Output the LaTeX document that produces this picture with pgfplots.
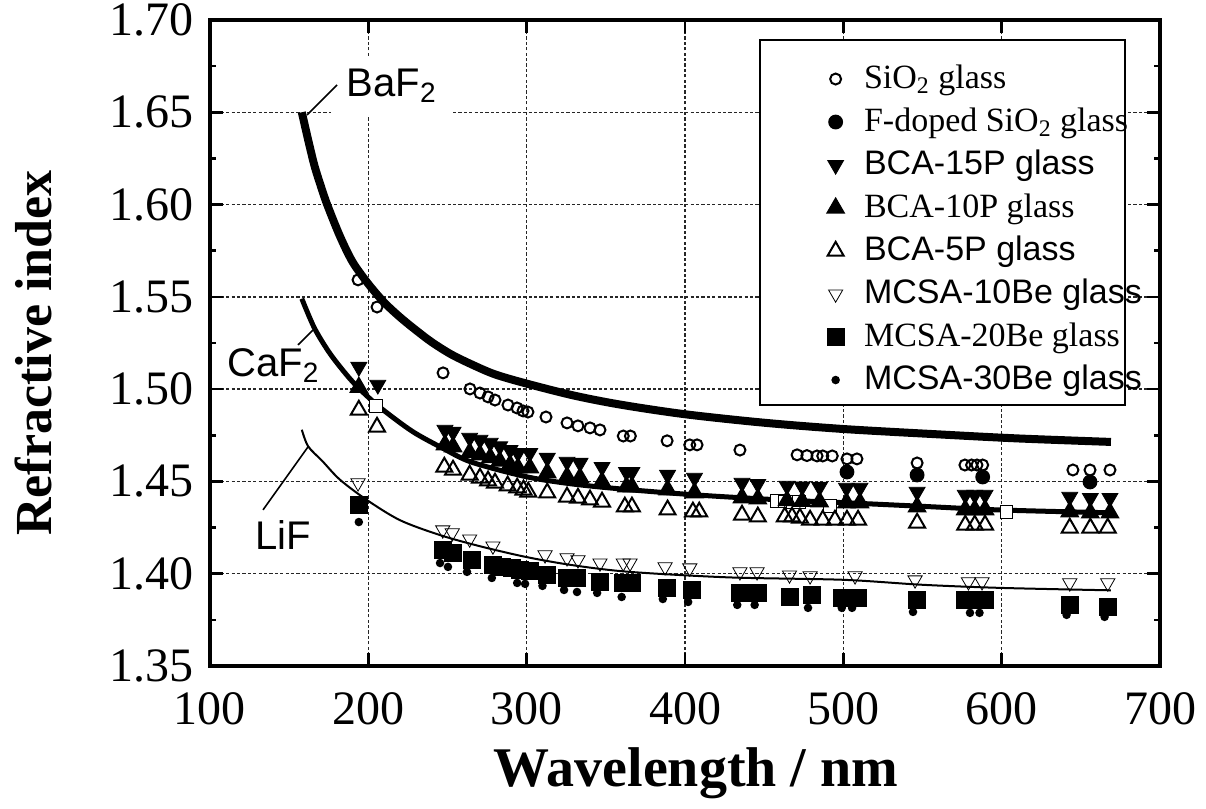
\documentclass[border=0pt]{standalone}
\usepackage{fontspec}
\setmainfont{Liberation Serif}
\newfontfamily\arial{Liberation Sans}
\usepackage{pgfplots}
\pgfplotsset{compat=1.18}
\pgfplotsset{mk/.style={only marks, black, mark options={line width=1bp}}}
\begin{document}
\begin{tikzpicture}
\useasboundingbox (-105bp,-71.5bp) rectangle (498bp,333bp);
\begin{axis}[
  name=ax, at={(0,0)}, anchor=south west,
  scale only axis, width=475bp, height=323bp,
  xmin=100, xmax=700, ymin=1.35, ymax=1.70,
  xtick={100,200,300,400,500,600,700},
  ytick={1.35,1.40,1.45,1.50,1.55,1.60,1.65,1.70},
  minor y tick num=1,
  tick align=inside, major tick length=6.5bp, minor tick length=3bp,
  tick style={black, line width=1.3bp},
  axis line style={line width=1.6bp},
  grid=major,
  grid style={solid, black!85, line width=0.7bp, dash pattern=on 1.6bp off 1.1bp},
  /pgf/number format/assume math mode=true,
  tick label style={font=\fontsize{24bp}{28bp}\selectfont},
  yticklabel style={/pgf/number format/.cd, fixed, fixed zerofill, precision=2, /tikz/.cd, xshift=-4.5bp},
  xticklabel style={yshift=-10bp},
  legend style={at={(0.603,0.958)}, anchor=north west, draw=none, fill=none,
    inner xsep=2bp, inner ysep=5bp, row sep=0bp, column sep=0bp,
    font=\fontsize{17bp}{21bp}\selectfont,
    nodes={inner sep=1.5bp, text height=14bp, text depth=4.5bp}},
  legend cell align=left,
  legend image code/.code={\path (0bp,0bp) (36.5bp,0bp); \draw[#1] plot coordinates {(24bp,0bp)};},
]
% BaF2
\addplot[black, line width=4bp, smooth, tension=0.5, forget plot] coordinates {
(158,1.650)(162,1.635)(166,1.621)(170,1.610)(174,1.600)(182,1.583)(190,1.569)(200,1.557)(210,1.547)(220,1.539)(230,1.532)(240,1.5255)(252,1.519)(265,1.5135)(280,1.508)(300,1.503)(330,1.4965)(360,1.4915)(400,1.4864)(450,1.4818)(500,1.4784)(560,1.4755)(610,1.4733)(669,1.4714)};
% CaF2
\addplot[black, line width=2.5bp, smooth, tension=0.5, forget plot] coordinates {
(158,1.549)(166,1.533)(176,1.519)(188,1.506)(197,1.498)(209,1.489)(228,1.477)(247,1.468)(265,1.4605)(300,1.4525)(330,1.4485)(365,1.4455)(410,1.4425)(460,1.4400)(500,1.4385)(550,1.4365)(600,1.4345)(669,1.4330)};
% LiF
\addplot[black, line width=1bp, smooth, tension=0.5, forget plot] coordinates {
(158,1.478)(162,1.469)(171,1.461)(182,1.451)(199,1.440)(220,1.429)(245,1.421)(270,1.415)(300,1.409)(330,1.4045)(365,1.401)(428,1.398)(500,1.3967)(550,1.394)(600,1.3923)(669,1.391)};
% open squares (unlisted)
\addplot[mk, mark=square*, mark size=3.2bp, mark options={fill=white}, forget plot] coordinates {
(205,1.4910)(458,1.4395)(463,1.4392)(468,1.4390)(472,1.4388)(491.6,1.4367)(603,1.4335)};

\addplot[mk, mark=o, mark size=2.75bp] coordinates {
(193.5,1.5592)(205.5,1.5445)(247.2,1.5088)(264.2,1.5001)(270.5,1.4979)(275.6,1.4958)(280.0,1.4941)(288.2,1.4914)(293.9,1.4898)(297.7,1.4882)(300.8,1.4876)(312.2,1.4849)(325.5,1.4817)(332.4,1.4801)(340.0,1.4790)(346.3,1.4779)(361.0,1.4746)(365.5,1.4746)(388.7,1.4720)(403.0,1.4698)(407.6,1.4698)(434.7,1.4670)(470.8,1.4644)(477.0,1.4640)(483.4,1.4638)(487.0,1.4638)(493.0,1.4638)(502.3,1.4622)(508.6,1.4622)(546.6,1.4600)(576.8,1.4589)(581.0,1.4589)(584.4,1.4589)(588.0,1.4589)(645.0,1.4562)(655.8,1.4562)(668.4,1.4562)};
\addlegendentry{SiO\textsubscript{2} glass}

\addplot[mk, mark=*, mark size=3.2bp] coordinates {
(502.3,1.4551)(546.6,1.4535)(588,1.4524)(655.8,1.4497)};
\addlegendentry{F-doped SiO\textsubscript{2} glass}

\addplot[mk, mark=triangle*, mark size=4.6bp, mark options={rotate=180}] coordinates {
(194,1.5120)(206,1.5023)(248.4,1.4779)(253.5,1.4768)(264,1.4736)(270.5,1.4725)(277,1.4709)(283,1.4690)(289.5,1.4670)(294.5,1.4654)(302,1.4654)(313,1.4627)(325.5,1.4606)(333.7,1.4600)(347.6,1.4578)(363,1.4551)(366.5,1.4551)(389,1.4535)(406,1.4519)(436,1.4492)(446,1.4486)(464.4,1.4476)(474,1.4472)(485,1.4470)(502,1.4465)(510.5,1.4465)(546.6,1.4443)(577,1.4427)(583,1.4427)(589.5,1.4427)(643,1.4416)(656,1.4410)(668.4,1.4410)};
\addlegendentry{\arial BCA-15P glass}

\addplot[mk, mark=triangle*, mark size=4.6bp] coordinates {
(194,1.5010)(248.4,1.4699)(253.5,1.4688)(264,1.4656)(270.5,1.4645)(277,1.4629)(283,1.4610)(289.5,1.4590)(294.5,1.4574)(302,1.4574)(313,1.4547)(325.5,1.4526)(333.7,1.4520)(347.6,1.4498)(363,1.4471)(366.5,1.4471)(389,1.4455)(406,1.4439)(436,1.4412)(446,1.4406)(464.4,1.4396)(474,1.4392)(485,1.4390)(502,1.4385)(510.5,1.4385)(546.6,1.4363)(577,1.4347)(583,1.4347)(589.5,1.4347)(643,1.4336)(656,1.4330)(668.4,1.4330)};
\addlegendentry{BCA-10P glass}

\addplot[mk, mark=triangle, mark size=4.6bp] coordinates {
(194,1.4887)(205.5,1.4795)(248,1.4578)(253.5,1.4562)(264,1.4535)(270.5,1.4519)(275.6,1.4503)(280,1.4492)(288,1.4476)(294,1.4465)(298,1.4454)(301,1.4443)(313,1.4438)(325.5,1.4416)(332.4,1.4410)(340,1.4400)(347.6,1.4389)(362,1.4362)(366.5,1.4362)(389,1.4346)(405,1.4335)(409,1.4335)(436,1.4318)(446,1.4308)(463,1.4308)(467.6,1.4308)(472.6,1.4302)(479,1.4291)(487,1.4291)(494.7,1.4291)(502.3,1.4291)(509.3,1.4291)(546.6,1.4275)(577,1.4264)(583,1.4264)(589.5,1.4264)(643,1.4248)(656,1.4248)(667,1.4248)};
\addlegendentry{\arial BCA-5P glass}

\addplot[mk, mark=triangle, mark size=4.1bp, mark options={rotate=180}] coordinates {
(193.5,1.4492)(247,1.4237)(253,1.4221)(264,1.4188)(278.7,1.4150)(311.6,1.4102)(325.5,1.4086)(332.4,1.4075)(346.3,1.4058)(361,1.4058)(365.3,1.4058)(387.4,1.4037)(403,1.4031)(434.7,1.4010)(445.5,1.4010)(466,1.3993)(479,1.3988)(507.4,1.3988)(545.3,1.3966)(579,1.3956)(587.6,1.3956)(643,1.3950)(667,1.3950)};
\addlegendentry{\arial MCSA-10Be glass}

\addplot[mk, mark=square*, mark size=4bp] coordinates {
(194,1.4373)(247,1.4129)(253.5,1.4113)(265.5,1.4075)(278.7,1.4048)(284.4,1.4037)(290.7,1.4030)(295.8,1.4020)(302,1.4015)(313,1.3993)(325.5,1.3977)(331.8,1.3977)(346.3,1.3956)(361,1.3950)(366.5,1.3950)(388.6,1.3923)(404.4,1.3912)(434.7,1.3896)(446,1.3896)(466,1.3874)(480,1.3885)(499,1.3869)(509.3,1.3869)(546.6,1.3858)(577,1.3858)(585,1.3858)(589.5,1.3858)(643,1.3831)(667,1.3820)};
\addlegendentry{MCSA-20Be glass}

\addplot[mk, mark=*, mark size=1.6bp] coordinates {
(194,1.4280)(245.3,1.4058)(250.3,1.4037)(262.3,1.4010)(278,1.3977)(294,1.3950)(299,1.3945)(310,1.3934)(323.6,1.3912)(331.8,1.3901)(344.5,1.3896)(360,1.3874)(386,1.3863)(402,1.3847)(433,1.3831)(444,1.3831)(477.7,1.3815)(499,1.3815)(505.5,1.3815)(544,1.3793)(580,1.3788)(586,1.3788)(641,1.3777)(665,1.3766)};
\addlegendentry{\arial MCSA-30Be glass}

% legend frame
\draw[line width=0.6bp, fill=white] (axis cs:447.4,1.6892) rectangle (axis cs:677.9,1.4914);
% curve labels
\node[anchor=base west, font=\arial\fontsize{20bp}{24bp}\selectfont, fill=white, inner xsep=8bp, inner ysep=6bp] at (axis cs:176,1.6586) {BaF\textsubscript{2}};
\draw[line width=0.8bp] (axis cs:161.3,1.6485) -- (axis cs:180.2,1.6648);
\node[anchor=base west, font=\arial\fontsize{20bp}{24bp}\selectfont, inner sep=0pt] at (axis cs:110.7,1.5070) {CaF\textsubscript{2}};
\draw[line width=0.8bp] (axis cs:155.6,1.524) -- (axis cs:165,1.532);
\node[anchor=base west, font=\arial\fontsize{20bp}{24bp}\selectfont, inner sep=0pt] at (axis cs:128.4,1.4129) {LiF};
\draw[line width=0.8bp] (axis cs:133.5,1.4346) -- (axis cs:161.9,1.4687);
\end{axis}
\node[anchor=base, font=\bfseries\fontsize{28bp}{32bp}\selectfont] at ([xshift=5.5bp,yshift=-60bp]ax.south) {Wavelength / nm};
\node[anchor=base, rotate=90, font=\bfseries\fontsize{26bp}{30bp}\selectfont] at ([xshift=-79bp,yshift=-5bp]ax.west) {Refractive index};
\end{tikzpicture}
\end{document}
